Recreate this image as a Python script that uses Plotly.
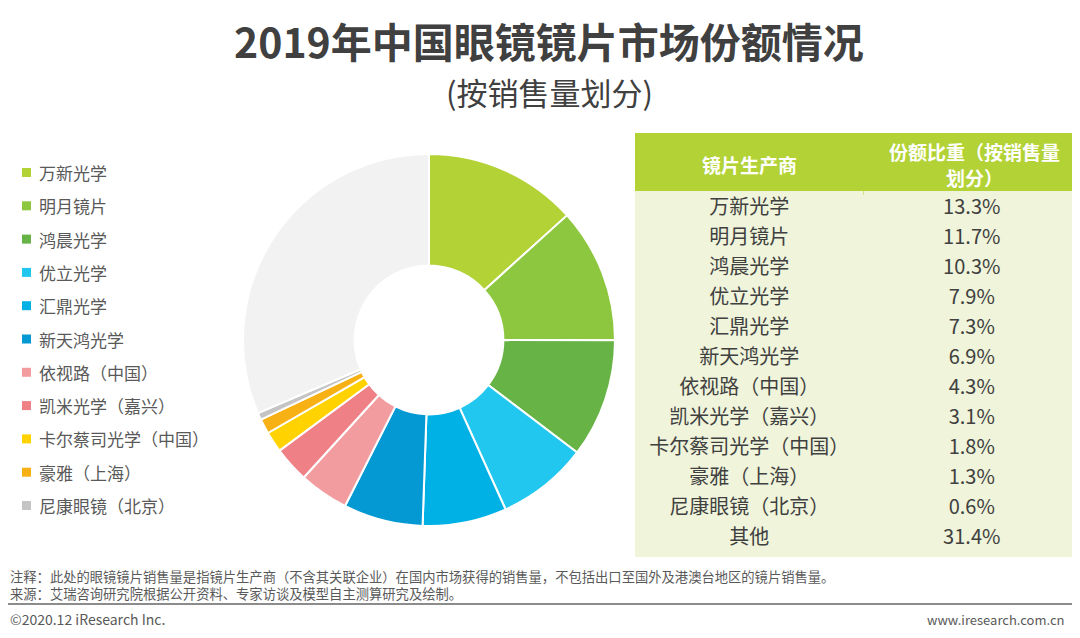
import plotly.graph_objects as go

companies = ["万新光学", "明月镜片", "鸿晨光学", "优立光学", "汇鼎光学", "新天鸿光学",
             "依视路（中国）", "凯米光学（嘉兴）", "卡尔蔡司光学（中国）", "豪雅（上海）",
             "尼康眼镜（北京）", "其他"]
shares = [13.3, 11.7, 10.3, 7.9, 7.3, 6.9, 4.3, 3.1, 1.8, 1.3, 0.6, 31.4]
colors = ["#b2d235", "#8dc63f", "#67b346", "#22c7f0", "#00b1e6", "#0499d2",
          "#f29c9f", "#ef8085", "#ffd200", "#f8b114", "#c4c4c4", "#f2f2f2"]
share_labels = [f"{v:.1f}%" for v in shares]
table_header_1 = "镜片生产商"
table_header_2 = ["份额比重（按销售量", "划分）"]

# the page has an 8px body margin; the figure is drawn 8px in from the top-left
OFF = 8
W, H = 1080 - OFF, 638 - OFF
TXT = "#404040"
FONT = "Noto Sans CJK SC"
HEAD_FILL = "#b2d235"
CELL_FILL = "#eff4da"


def px(x):
    return (x - OFF) / W


def py(y):
    return (H - (y - OFF)) / H


fig = go.Figure()

fig.add_trace(go.Pie(
    labels=companies, values=shares, sort=False, direction="clockwise", rotation=0,
    hole=0.4, marker=dict(colors=colors, line=dict(color="white", width=2)),
    textinfo="none", hoverinfo="label+percent", showlegend=False,
    domain=dict(x=[px(243), px(615)], y=[py(526), py(154)]),
))

fig.add_trace(go.Table(
    domain=dict(x=[px(635), 1.0], y=[py(557), py(133)]),
    columnwidth=[228, 216],
    header=dict(
        values=["", ""],
        fill_color=HEAD_FILL, line=dict(color=HEAD_FILL, width=0),
        font=dict(family=FONT, size=19, color="white"), align="center", height=58,
    ),
    cells=dict(
        values=[companies, share_labels],
        fill_color=CELL_FILL, line=dict(color=CELL_FILL, width=0),
        font=dict(family=FONT, size=20, color=TXT), align="center", height=30,
    ),
))

shapes = []
annotations = []
# table background (extends cell fill to the bottom edge)
shapes.append(dict(type="rect", xref="paper", yref="paper", layer="below",
                   x0=px(635), x1=1.0, y0=py(557), y1=py(191),
                   fillcolor=CELL_FILL, line=dict(width=0)))
shapes.append(dict(type="rect", xref="paper", yref="paper", layer="below",
                   x0=px(635), x1=1.0, y0=py(195), y1=py(133),
                   fillcolor=HEAD_FILL, line=dict(width=0)))
for hx, hy, txt in [(749, 164, table_header_1), (974, 152, table_header_2[0]),
                    (974, 177, table_header_2[1])]:
    annotations.append(dict(text=f"<b>{txt}</b>", x=px(hx), y=py(hy), xref="paper", yref="paper",
                            xanchor="center", yanchor="middle", showarrow=False,
                            font=dict(family=FONT, size=19, color="white")))

# custom legend (excluding 其他)
for i, (name, col) in enumerate(zip(companies[:-1], colors[:-1])):
    yc = 172.5 + i * 33.3
    shapes.append(dict(type="rect", xref="paper", yref="paper",
                       x0=px(22), x1=px(31), y0=py(yc + 4.5), y1=py(yc - 4.5),
                       fillcolor=col, line=dict(width=0)))
    annotations.append(dict(text=name, x=px(37), y=py(yc), xref="paper", yref="paper",
                            xanchor="left", yanchor="middle", showarrow=False,
                            font=dict(family=FONT, size=17, color="#595959")))

annotations += [
    dict(text="<b>2019年中国眼镜镜片市场份额情况</b>", x=px(549), y=py(40),
         xref="paper", yref="paper", showarrow=False, xanchor="center", yanchor="middle",
         font=dict(family=FONT, size=41, color=TXT)),
    dict(text="(按销售量划分)", x=px(549), y=py(92),
         xref="paper", yref="paper", showarrow=False, xanchor="center", yanchor="middle",
         font=dict(family=FONT, size=31, color=TXT)),
    dict(text="注释：此处的眼镜镜片销售量是指镜片生产商（不含其关联企业）在国内市场获得的销售量，不包括出口至国外及港澳台地区的镜片销售量。",
         x=0, y=py(576), xref="paper", yref="paper", showarrow=False,
         xanchor="left", yanchor="middle", font=dict(family=FONT, size=13.3, color="#595959")),
    dict(text="来源：艾瑞咨询研究院根据公开资料、专家访谈及模型自主测算研究及绘制。",
         x=0, y=py(593), xref="paper", yref="paper", showarrow=False,
         xanchor="left", yanchor="middle", font=dict(family=FONT, size=13.3, color="#595959")),
    dict(text="©2020.12 iResearch Inc.", x=0, y=py(619), xref="paper", yref="paper",
         showarrow=False, xanchor="left", yanchor="middle",
         font=dict(family=FONT, size=14, color="#595959")),
    dict(text="www.iresearch.com.cn", x=px(1067), y=py(619), xref="paper", yref="paper",
         showarrow=False, xanchor="right", yanchor="middle",
         font=dict(family=FONT, size=13, color="#595959")),
]
shapes.append(dict(type="line", xref="paper", yref="paper", x0=0, x1=px(1077),
                   y0=py(604), y1=py(604), line=dict(color="#8c8c8c", width=2)))

fig.update_layout(
    width=W, height=H, margin=dict(l=0, r=0, t=0, b=0),
    paper_bgcolor="white", plot_bgcolor="white",
    shapes=shapes, annotations=annotations,
    font=dict(family=FONT),
)

fig.write_html("out.html")
